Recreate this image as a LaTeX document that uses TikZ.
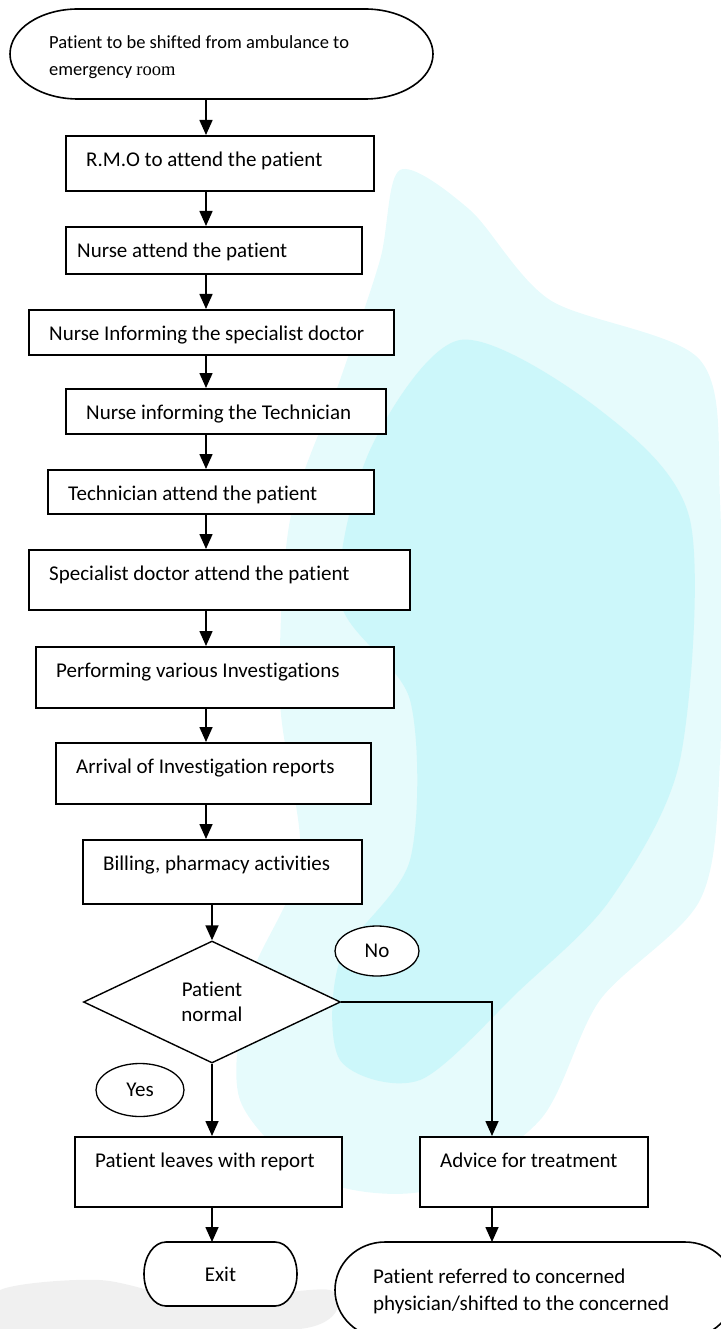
\documentclass[tikz,border=0pt]{standalone}
\usepackage{fontspec}
\setmainfont{Carlito}[Ligatures=NoCommon]
\newfontfamily\roomfont{Liberation Serif}
\usepackage{tikz}
\usetikzlibrary{arrows.meta,backgrounds,shapes.geometric}
\definecolor{wmlight}{RGB}{230,251,252}
\definecolor{wmcyan}{RGB}{204,247,250}
\definecolor{wmgrey}{RGB}{226,226,226}
\newcommand{\boxfont}{\fontsize{21}{25}\selectfont}
\newcommand{\terminator}[3]{%
  \filldraw[fill=white, line width=1.6pt] ([xshift=#2]#1.north west) -- ([xshift=-#2]#1.north east)
    arc[start angle=90, end angle=-90, x radius=#2, y radius=#3] -- ([xshift=#2]#1.south west)
    arc[start angle=270, end angle=90, x radius=#2, y radius=#3] -- cycle;}

\begin{document}
\begin{tikzpicture}[x=1pt, y=-1pt,
  box/.style={draw, fill=white, rectangle, line width=1.6pt, anchor=north west, inner sep=0pt},
  boxtext/.style={anchor=base west, inner sep=0pt, xshift=#1, yshift=-31.5pt, font=\boxfont},
  boxtext/.default=21pt,
  term/.style={rectangle, inner sep=0pt, outer sep=0pt, font=\boxfont},
  decision/.style={draw, fill=white, diamond, line width=1.4pt, inner sep=0pt, align=center, font=\boxfont},
  answer/.style={draw, fill=white, ellipse, line width=1.3pt, inner sep=0pt, font=\boxfont},
  arrow/.style={-{Triangle[length=15pt,width=13pt]}, line width=1.6pt}]
\useasboundingbox (0,0) rectangle (720,1329);
\clip (0,0) rectangle (720,1329);
\coordinate (spine) at (206,0);
\coordinate (branch) at (492,0);
\node[term, minimum width=423pt, minimum height=90pt, label={[anchor=base west, inner sep=0pt, xshift=39pt, yshift=-67pt, align=left, font=\fontsize{18.5}{27}\selectfont]north west:Patient to be shifted from ambulance to\\emergency {\roomfont room}}] (start) at (221.5,54) {};
\node[box, minimum width=308pt, minimum height=55pt, label={[boxtext]north west:R.M.O to attend the patient}] (rmo) at (65,135) {};
\node[box, minimum width=296pt, minimum height=47pt, label={[boxtext=12pt]north west:Nurse attend the patient}] (nurse) at (65,226) {};
\node[box, minimum width=365pt, minimum height=45pt, label={[boxtext]north west:Nurse Informing the specialist doctor}] (docinfo) at (28,309) {};
\node[box, minimum width=320pt, minimum height=45pt, label={[boxtext]north west:Nurse informing the Technician}] (techinfo) at (65,388) {};
\node[box, minimum width=326pt, minimum height=44pt, label={[boxtext]north west:Technician attend the patient}] (techatt) at (47,469) {};
\node[box, minimum width=381pt, minimum height=60pt, label={[boxtext]north west:Specialist doctor attend the patient}] (docatt) at (28,549) {};
\node[box, minimum width=358pt, minimum height=61pt, label={[boxtext]north west:Performing various Investigations}] (invest) at (35,646) {};
\node[box, minimum width=315pt, minimum height=61pt, label={[boxtext]north west:Arrival of Investigation reports}] (reports) at (55,742) {};
\node[box, minimum width=279pt, minimum height=64pt, label={[boxtext]north west:Billing, pharmacy activities}] (billing) at (82,839) {};
\node[decision, minimum width=257pt, minimum height=122pt] (normal) at (212,1002) {Patient\\normal};
\node[answer, minimum width=84pt, minimum height=50pt] (no) at (377,951) {No};
\node[answer, minimum width=88pt, minimum height=53pt] (yes) at (140,1090) {Yes};
\node[box, minimum width=267pt, minimum height=70pt, label={[boxtext]north west:Patient leaves with report}] (leaves) at (74,1136) {};
\node[box, minimum width=228pt, minimum height=70pt, label={[boxtext]north west:Advice for treatment}] (advice) at (419,1136) {};
\node[term, minimum width=153pt, minimum height=64pt] (exit) at (220.5,1274) {Exit};
\node[term, minimum width=400pt, minimum height=96pt, label={[anchor=base west, inner sep=0pt, xshift=38pt, yshift=-68pt, align=left, font=\fontsize{21}{27}\selectfont]north west:Patient referred to concerned\\physician/shifted to the concerned}] (refer) at (535,1290) {};
\begin{scope}[on background layer]
  \fill[wmlight] plot[smooth cycle] coordinates {(400,170) (470,210) (550,300) (700,360) (720,500) (720,760) (700,900) (600,1000) (540,1120) (430,1190) (320,1180) (240,1100) (250,980) (300,860) (280,700) (290,520) (340,380) (380,260)};
  \fill[wmcyan] plot[smooth cycle] coordinates {(460,340) (600,410) (690,520) (680,760) (610,900) (520,990) (420,1080) (340,1060) (340,960) (410,860) (410,700) (340,600) (370,450)};
  \fill[wmgrey, opacity=.5] plot[smooth cycle] coordinates {(0,1290) (100,1280) (200,1300) (330,1290) (300,1329) (0,1329)};
  \terminator{start}{68pt}{45pt}
  \terminator{exit}{22pt}{32pt}
  \terminator{refer}{50pt}{48pt}
\end{scope}
\path[arrow]
(start.south -| spine) edge (rmo.north -| spine)
(rmo.south -| spine) edge (nurse.north -| spine)
(nurse.south -| spine) edge (docinfo.north -| spine)
(docinfo.south -| spine) edge (techinfo.north -| spine)
(techinfo.south -| spine) edge (techatt.north -| spine)
(techatt.south -| spine) edge (docatt.north -| spine)
(docatt.south -| spine) edge (invest.north -| spine)
(invest.south -| spine) edge (reports.north -| spine)
(reports.south -| spine) edge (billing.north -| spine)
(billing.south -| normal) edge (normal.north)
(normal.south) edge (leaves.north -| normal)
(leaves.south -| normal) edge (exit.north -| normal)
(advice.south -| branch) edge (refer.north -| branch)
;
\draw[arrow] (normal.east) -| (advice.north -| branch);
\end{tikzpicture}
\end{document}
